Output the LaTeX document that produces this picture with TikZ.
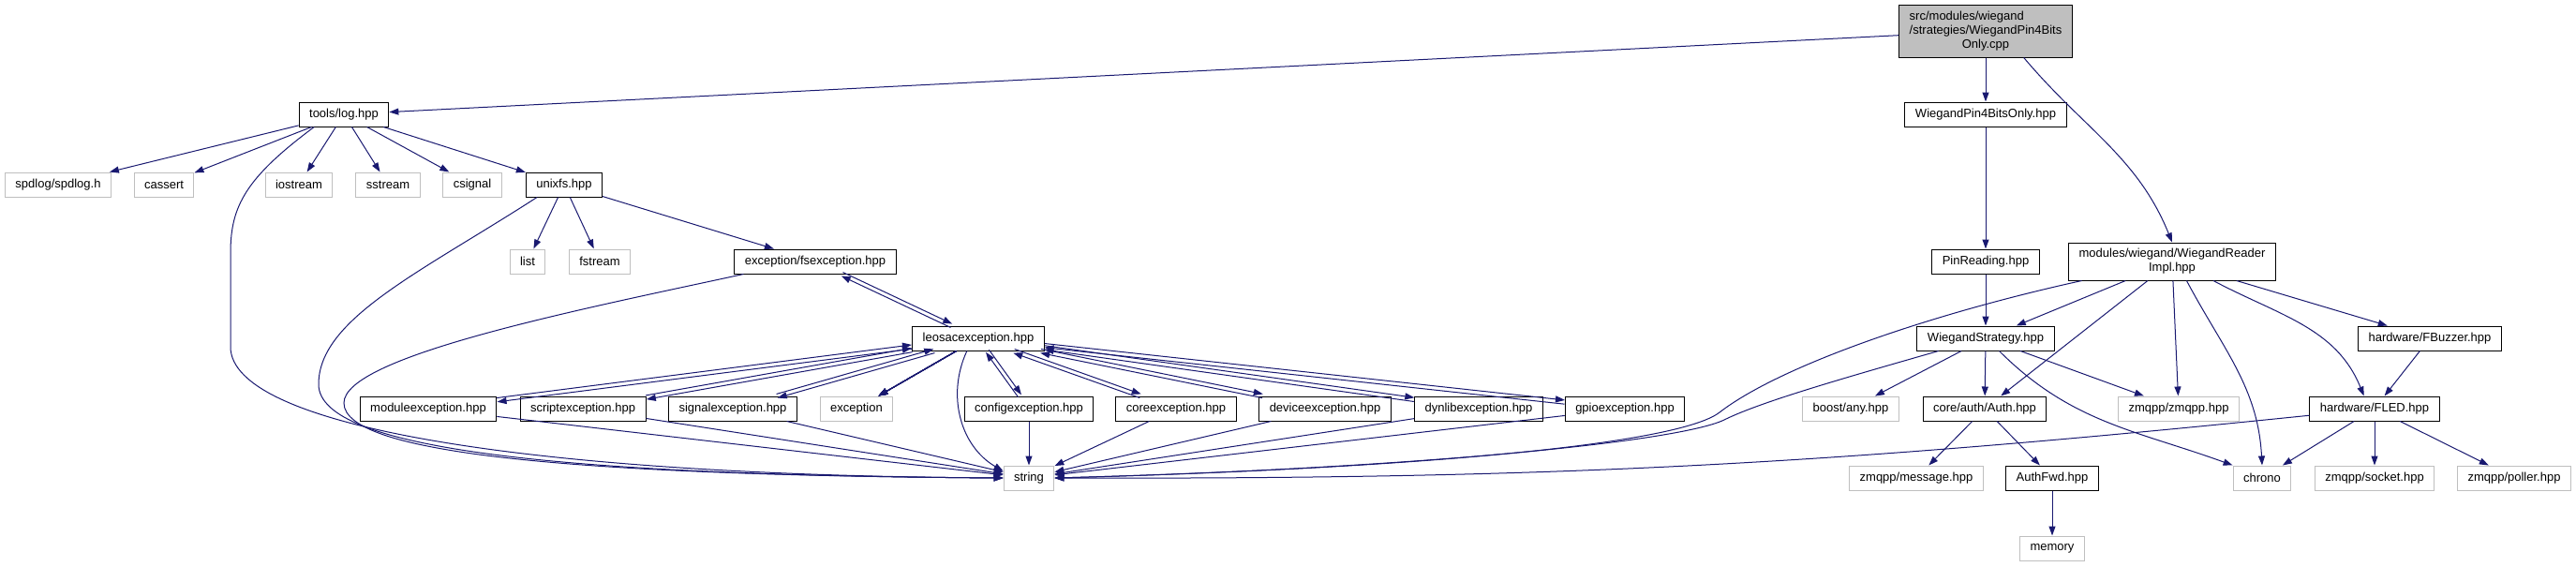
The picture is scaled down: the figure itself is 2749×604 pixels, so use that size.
\documentclass[tikz,border=0pt]{standalone}
\usepackage{fontspec}
\setmainfont{Liberation Sans}
\usepackage{xcolor}
\usepackage{tikz}
\usetikzlibrary{positioning, arrows.meta, calc}
\definecolor{depblue}{RGB}{25,25,112}
\definecolor{extgray}{RGB}{191,191,191}

% includes running both ways between two files
\newcommand{\bothways}[2]{%
  \path (#1) -- (#2) coordinate[pos=0] (bw1) coordinate[pos=1] (bw2);
  \draw[dep] ($(bw1)!1.6pt!90:(bw2)$) -- ($(bw2)!1.6pt!-90:(bw1)$);
  \draw[dep] ($(bw2)!1.6pt!90:(bw1)$) -- ($(bw1)!1.6pt!-90:(bw2)$);
}

\begin{document}
\begin{tikzpicture}[
        x=0.75pt, y=-0.75pt,
        file/.style={draw=black, fill=white, line width=0.75pt, inner xsep=8.25pt, inner ysep=0pt, minimum height=19.5pt, font=\fontsize{9.75}{11.25}\selectfont},
        ext/.style={file, draw=extgray},
        dep/.style={-{Triangle[length=7.5pt,width=5.25pt]}, draw=depblue, line width=0.75pt}
    ]
    \useasboundingbox (0,0) rectangle (2749,604);

    \node[file, fill=extgray, minimum height=42pt] (root) at (2119,33) {\begin{tabular}{@{}l@{}}src/modules/wiegand\\/strategies/WiegandPin4Bits\\\multicolumn{1}{@{}c@{}}{Only.cpp}\end{tabular}};

    % row 1
    \node[file] (log) at (367,122) {tools/log.hpp};
    \node[file] (wp4) at (2119,122) {WiegandPin4BitsOnly.hpp};

    % row 2
    \node[ext] (spdlog) at (62,197) {spdlog/spdlog.h};
    \node[ext] (cassert) at (175,197) {cassert};
    \node[ext] (iostream) at (319,197) {iostream};
    \node[ext] (sstream) at (414,197) {sstream};
    \node[ext] (csignal) at (504,197) {csignal};
    \node[file] (unixfs) at (602,197) {unixfs.hpp};

    % row 3
    \node[ext] (list) at (563,279) {list};
    \node[ext] (fstream) at (640,279) {fstream};
    \node[file] (fsexc) at (870,279) {exception/fsexception.hpp};
    \node[file] (pinread) at (2119,279) {PinReading.hpp};
    \node[file, align=center, minimum height=30pt] (reader) at (2318,279) {modules/wiegand/WiegandReader\\Impl.hpp};

    % row 4
    \node[file] (leosac) at (1044,361) {leosacexception.hpp};
    \node[file] (strat) at (2119,361) {WiegandStrategy.hpp};
    \node[file] (buzzer) at (2593,361) {hardware/FBuzzer.hpp};

    % row 5
    \node[file] (modexc) at (457,436) {moduleexception.hpp};
    \node[file] (screxc) at (622,436) {scriptexception.hpp};
    \node[file] (sigexc) at (782,436) {signalexception.hpp};
    \node[ext] (stdexc) at (914,436) {exception};
    \node[file] (cfgexc) at (1098,436) {configexception.hpp};
    \node[file] (coreexc) at (1255,436) {coreexception.hpp};
    \node[file] (devexc) at (1414,436) {deviceexception.hpp};
    \node[file] (dynexc) at (1578,436) {dynlibexception.hpp};
    \node[file] (gpioexc) at (1734,436) {gpioexception.hpp};
    \node[ext] (anyhpp) at (1975,436) {boost/any.hpp};
    \node[file] (auth) at (2118,436) {core/auth/Auth.hpp};
    \node[ext] (zmqpp) at (2325,436) {zmqpp/zmqpp.hpp};
    \node[file] (fled) at (2534,436) {hardware/FLED.hpp};

    % row 6
    \node[ext] (str) at (1098,510) {string};
    \node[ext] (msg) at (2045,510) {zmqpp/message.hpp};
    \node[file] (authfwd) at (2190,510) {AuthFwd.hpp};
    \node[ext] (chrono) at (2414,510) {chrono};
    \node[ext] (socket) at (2534,510) {zmqpp/socket.hpp};
    \node[ext] (poller) at (2683,510) {zmqpp/poller.hpp};

    \node[ext] (memory) at (2190,585) {memory};

    % from the source file
    \draw[dep] (root) -- (log);
    \draw[dep] (root) -- (wp4);
    \draw[dep] (root.-35) to[out=-50,in=112] (reader.north);

    % tools/log.hpp and unixfs.hpp
    \foreach \n in {spdlog, cassert, iostream, sstream, csignal, unixfs}
        \draw[dep] (log) -- (\n);
    \draw[dep] (log.-157) .. controls (262,190) and (246,220) .. (246,270) -- (246,370) .. controls (246,455) and (560,507) .. (str.west);
    \draw[dep] (unixfs) -- (list);
    \draw[dep] (unixfs) -- (fstream);
    \draw[dep] (unixfs) -- (fsexc);
    \draw[dep] (unixfs.-155) .. controls (450,290) and (340,340) .. (340,410) .. controls (340,480) and (600,507) .. (str.west);
    \draw[dep] (fsexc.-170) .. controls (620,330) and (367,380) .. (367,430) .. controls (367,485) and (620,507) .. (str.west);

    % exceptions
    \bothways{fsexc}{leosac}
    \foreach \n in {modexc, screxc, sigexc, cfgexc, coreexc, devexc, dynexc, gpioexc}
        \bothways{leosac}{\n}
    \draw[dep] (leosac) -- (stdexc);
    \draw[dep] (leosac.-132) to[out=-115,in=150] (str.165);
    \foreach \n in {modexc, screxc, sigexc, cfgexc, coreexc, devexc, dynexc, gpioexc}
        \draw[dep] (\n) -- (str);

    % wiegand side
    \draw[dep] (wp4) -- (pinread);
    \draw[dep] (pinread) -- (strat);
    \draw[dep] (reader) -- (strat);
    \draw[dep] (reader) -- (auth);
    \draw[dep] (reader) -- (zmqpp);
    \draw[dep] (reader.-53) to[out=-62,in=93] (chrono.north);
    \draw[dep] (reader.-25) to[out=-28,in=112] (fled.130);
    \draw[dep] (reader) -- (buzzer);
    \draw[dep] (reader.-168) .. controls (2060,335) and (1900,390) .. (1835,440) .. controls (1790,475) and (1500,500) .. (str.east);
    \draw[dep] (strat) -- (anyhpp);
    \draw[dep] (strat) -- (auth);
    \draw[dep] (strat) -- (zmqpp);
    \draw[dep] (strat.-43) to[out=-45,in=160] (chrono.north west);
    \draw[dep] (strat.-165) .. controls (1980,400) and (1880,428) .. (1840,448) .. controls (1790,472) and (1500,500) .. (str.east);
    \draw[dep] (auth) -- (msg);
    \draw[dep] (auth) -- (authfwd);
    \draw[dep] (authfwd) -- (memory);
    \draw[dep] (buzzer) -- (fled);
    \draw[dep] (fled) -- (chrono);
    \draw[dep] (fled) -- (socket);
    \draw[dep] (fled) -- (poller);
    \draw[dep] (fled) to[bend left=3] (str);

\end{tikzpicture}
\end{document}
